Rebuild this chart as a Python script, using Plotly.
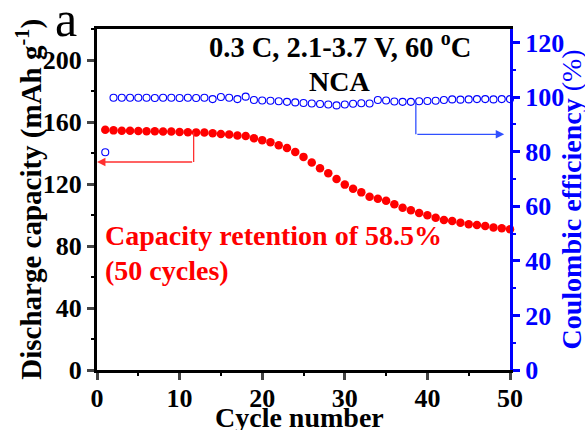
import plotly.graph_objects as go

cycles = list(range(1, 51))
capacity = [155.0, 154.6, 154.4, 154.3, 154.2, 154.1, 154.0, 153.9, 153.8, 153.6,
            153.4, 153.3, 153.2, 152.7, 152.3, 152.0, 151.3, 151.0, 149.5, 148.3,
            146.9, 145.0, 143.2, 140.6, 137.5, 133.8, 130.1, 126.9, 123.2, 119.6,
            117.0, 114.6, 111.8, 110.5, 109.2, 106.9, 104.7, 103.0, 101.3, 99.8,
            98.3, 96.8, 96.1, 95.0, 94.0, 93.5, 92.9, 92.0, 91.4, 90.8]
ce = [79.8, 99.8, 99.8, 99.8, 99.8, 99.8, 99.7, 99.8, 99.8, 99.7,
      99.8, 99.7, 99.8, 99.3, 100.1, 99.8, 99.3, 100.2, 99.0, 98.8,
      98.7, 98.5, 98.3, 98.1, 97.9, 97.7, 97.5, 97.3, 97.0, 97.3,
      97.6, 97.8, 97.7, 99.0, 98.8, 98.4, 98.3, 98.3, 98.5, 98.6,
      98.7, 99.0, 99.2, 99.1, 99.2, 99.3, 99.3, 99.2, 99.3, 99.3]

x_ticks = [0, 10, 20, 30, 40, 50]
y_ticks = [0, 40, 80, 120, 160, 200]
y2_ticks = [0, 20, 40, 60, 80, 100, 120]

# arrow anchors (data units)
red_arrow_x, red_arrow_top, red_arrow_y, red_arrow_end = 11.7, 153.3, 134.2, 0
blue_arrow_x, blue_arrow_top, blue_arrow_y, blue_arrow_end = 38.6, 98.3, 86.4, 49.3

FONT = "Liberation Serif"

fig = go.Figure()
fig.add_trace(go.Scatter(x=cycles, y=capacity, mode="markers", cliponaxis=False,
                         marker=dict(color="#ff0000", size=8.5, line=dict(width=0)),
                         showlegend=False))
fig.add_trace(go.Scatter(x=cycles, y=ce, mode="markers", yaxis="y2", cliponaxis=False,
                         marker=dict(symbol="circle-open", color="#0000ff", size=7,
                                     line=dict(width=1.1, color="#0000ff")),
                         showlegend=False))

# arrows
fig.add_shape(type="line", xref="x", yref="y", x0=red_arrow_x, x1=red_arrow_x,
              y0=red_arrow_top, y1=red_arrow_y, line=dict(color="#ff3030", width=1.3))
fig.add_annotation(x=red_arrow_end, y=red_arrow_y, ax=red_arrow_x, ay=red_arrow_y,
                   xref="x", yref="y", axref="x", ayref="y", text="", showarrow=True,
                   arrowhead=2, arrowsize=1.3, arrowwidth=1.3, arrowcolor="#ff3030")
fig.add_shape(type="line", xref="x", yref="y2", x0=blue_arrow_x, x1=blue_arrow_x,
              y0=blue_arrow_top, y1=blue_arrow_y, line=dict(color="#3050ff", width=1.3))
fig.add_annotation(x=blue_arrow_end, y=blue_arrow_y, ax=blue_arrow_x, ay=blue_arrow_y,
                   xref="x", yref="y2", axref="x", ayref="y2", text="", showarrow=True,
                   arrowhead=2, arrowsize=1.3, arrowwidth=1.3, arrowcolor="#3050ff")

def txt(text, x, y, size, color="black", xanchor="center", angle=0, weight="bold"):
    fig.add_annotation(text=text, x=x, y=y, xref="paper", yref="paper",
                       showarrow=False, xanchor=xanchor, yanchor="middle",
                       textangle=angle,
                       font=dict(family=FONT, size=size, color=color, weight=weight))

txt("0.3 C, 2.1-3.7 V, 60 <sup>o</sup>C", 0.588, 0.952, 28.5)
txt("NCA", 0.588, 0.845, 28)
txt("Capacity retention of 58.5%", 0.0145, 0.393, 28, color="#ff0000", xanchor="left")
txt("(50 cycles)", 0.0145, 0.292, 28, color="#ff0000", xanchor="left")
txt("a", -0.075, 1.03, 50, weight="normal")
txt("Discharge capacity (mAh g<sup>-1</sup>)", -0.164, 0.5, 29, angle=-90)
txt("<b>Coulombic efficiency</b> (%)", 1.15, 0.5, 28, color="#0000ff", angle=-90, weight="normal")
txt("Cycle number", 0.4915, -0.138, 28)

tickfont = dict(family=FONT, size=26, color="black", weight="bold")
fig.update_layout(
    width=585, height=430,
    margin=dict(l=97, r=75, t=29, b=60),
    plot_bgcolor="white", paper_bgcolor="white",
    xaxis=dict(range=[0, 50], tickvals=x_ticks, ticks="outside", ticklen=7, tickwidth=3,
               showline=True, linewidth=3, linecolor="black", mirror=True,
               showgrid=False, zeroline=False, tickfont=tickfont, ticklabelstandoff=-4,
               minor=dict(dtick=5, ticks="outside", ticklen=3, tickwidth=2, tickcolor="black")),
    yaxis=dict(range=[0, 220], tickvals=y_ticks, ticks="outside", ticklen=7, tickwidth=3,
               showline=True, linewidth=3, linecolor="black",
               showgrid=False, zeroline=False, tickfont=tickfont,
               minor=dict(dtick=20, ticks="outside", ticklen=3, tickwidth=2, tickcolor="black")),
    yaxis2=dict(range=[0, 125], tickvals=y2_ticks, overlaying="y", side="right",
                ticks="outside", ticklen=7, tickwidth=3, tickcolor="#0000ff",
                showline=True, linewidth=3, linecolor="#0000ff",
                showgrid=False, zeroline=False,
                tickfont=dict(family=FONT, size=26, color="#0000ff", weight="bold"),
                minor=dict(dtick=10, ticks="outside", ticklen=3, tickwidth=2, tickcolor="#0000ff")),
)

fig.write_html("out.html", config={"displayModeBar": False},
               post_script="document.body.style.margin='0';document.body.style.padding='0';")
